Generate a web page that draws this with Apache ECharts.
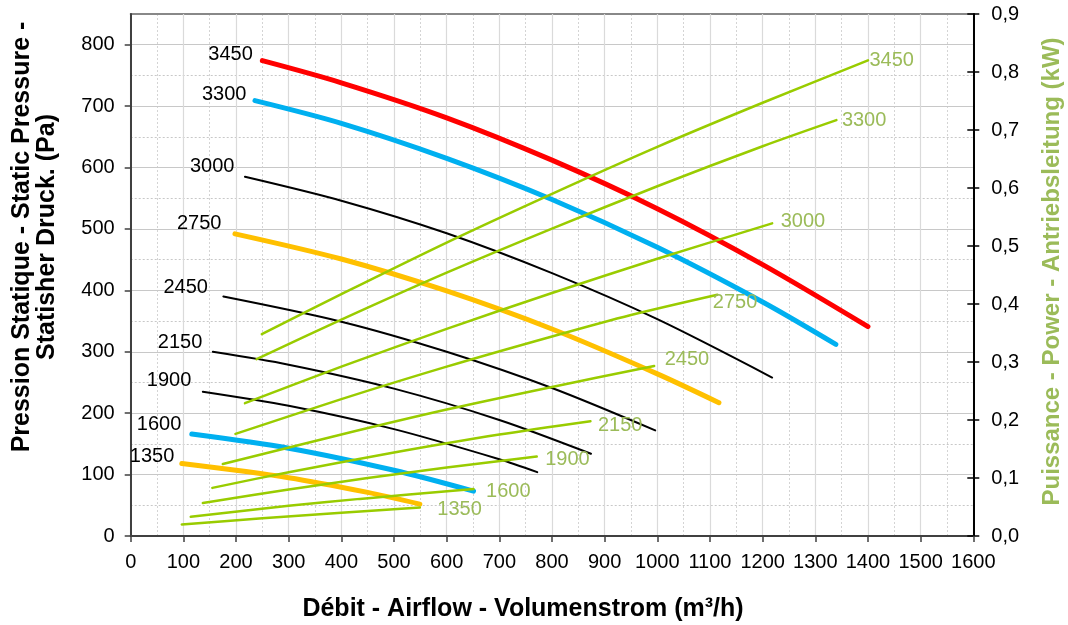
<!DOCTYPE html>
<html>
<head>
<meta charset="utf-8">
<script src="https://cdn.jsdelivr.net/npm/echarts@6/dist/echarts.min.js"></script>
<style>
html,body{margin:0;padding:0;background:#fff;}
#chart{width:1068px;height:625px;}
</style>
</head>
<body>
<div id="chart"></div>
<script>
// ---- Tick labels ----
const xTicks = [0,100,200,300,400,500,600,700,800,900,1000,1100,1200,1300,1400,1500,1600];
const yLeftTicks = [0,100,200,300,400,500,600,700,800];
const yRightTicks = [0,0.1,0.2,0.3,0.4,0.5,0.6,0.7,0.8,0.9];

// ---- Fan speeds (curve names) ----
const speeds = ['3450','3300','3000','2750','2450','2150','1900','1600','1350'];

// ---- Static pressure curves [airflow m3/h, Pa] ----
const pressure3450 = [[250,774],[400,738],[600,681],[800,612],[1000,533],[1200,442],[1400,341]];
const pressure3300 = [[236,709],[400,672],[600,615],[800,548],[1000,470],[1200,381],[1339,312]];
const pressure3000 = [[217,585],[400,546],[600,493],[800,428],[1000,353],[1218,258]];
const pressure2750 = [[198,492],[400,451],[600,399],[800,337],[1000,264],[1117,217]];
const pressure2450 = [[176,390],[400,349],[600,300],[800,241],[996,172]];
const pressure2150 = [[156,300],[300,279],[500,240],[700,189],[874,134]];
const pressure1900 = [[137,235],[300,212],[500,174],[700,125],[772,104]];
const pressure1600 = [[116,166],[300,143],[500,107],[651,73]];
const pressure1350 = [[97,118],[300,95],[450,71],[549,52]];

// ---- Power curves [airflow m3/h, kW] ----
const power3450 = [[249,0.348],[400,0.417],[600,0.506],[800,0.590],[1000,0.671],[1200,0.747],[1400,0.820]];
const power3300 = [[239,0.305],[400,0.373],[600,0.454],[800,0.530],[1000,0.603],[1200,0.672],[1340,0.717]];
const power3000 = [[217,0.229],[400,0.292],[600,0.357],[800,0.419],[1000,0.478],[1218,0.539]];
const power2750 = [[199,0.176],[400,0.236],[600,0.292],[800,0.344],[950,0.381],[1114,0.416]];
const power2450 = [[175,0.124],[400,0.175],[600,0.218],[800,0.257],[994,0.293]];
const power2150 = [[155,0.083],[300,0.110],[500,0.144],[700,0.175],[873,0.198]];
const power1900 = [[137,0.057],[300,0.080],[450,0.100],[600,0.118],[771,0.137]];
const power1600 = [[114,0.033],[300,0.052],[435,0.064],[651,0.081]];
const power1350 = [[97,0.020],[250,0.0305],[400,0.040],[549,0.049]];

const FONT = '"Liberation Sans", Arial, sans-serif';
const RED = '#FF0000', BLUE = '#00B0F0', ORANGE = '#FFC000', BLACK = '#000000', GREEN = '#99CC00', GREEN_TXT = '#9BBB59';

const pressureSets = [
  {name: speeds[0], data: pressure3450, color: RED,    width: 5, off: [-9, -6]},
  {name: speeds[1], data: pressure3300, color: BLUE,   width: 5, off: [-8, -6]},
  {name: speeds[2], data: pressure3000, color: BLACK,  width: 2, off: [-10, -10]},
  {name: speeds[3], data: pressure2750, color: ORANGE, width: 5, off: [-13, -10]},
  {name: speeds[4], data: pressure2450, color: BLACK,  width: 2, off: [-15, -9]},
  {name: speeds[5], data: pressure2150, color: BLACK,  width: 2, off: [-10, -9]},
  {name: speeds[6], data: pressure1900, color: BLACK,  width: 2, off: [-11, -11]},
  {name: speeds[7], data: pressure1600, color: BLUE,   width: 5, off: [-10, -10]},
  {name: speeds[8], data: pressure1350, color: ORANGE, width: 5, off: [-7, -7]}
];
const powerSets = [
  {name: speeds[0], data: power3450, off: [1, 0]},
  {name: speeds[1], data: power3300, off: [5, 0]},
  {name: speeds[2], data: power3000, off: [8, -2]},
  {name: speeds[3], data: power2750, off: [-5, 8]},
  {name: speeds[4], data: power2450, off: [10, -7]},
  {name: speeds[5], data: power2150, off: [7, 4]},
  {name: speeds[6], data: power1900, off: [8, 3]},
  {name: speeds[7], data: power1600, off: [12, 2]},
  {name: speeds[8], data: power1350, off: [17, 2]}
];

const series = [];
pressureSets.forEach(s => {
  series.push({
    type: 'line', name: 'P' + s.name, xAxisIndex: 0, yAxisIndex: 0,
    smooth: 0.3, symbol: 'circle', symbolSize: 1, showSymbol: true,
    lineStyle: {color: s.color, width: s.width, cap: 'round'},
    itemStyle: {color: s.color},
    silent: true, emphasis: {disabled: true}, z: 3,
    data: s.data.map((p, i) => i === 0 ? {
      value: p,
      label: {show: true, position: 'left', distance: 0, offset: s.off, formatter: s.name,
              color: '#000', fontSize: 20, fontFamily: FONT}
    } : p)
  });
});
powerSets.forEach(s => {
  series.push({
    type: 'line', name: 'W' + s.name, xAxisIndex: 0, yAxisIndex: 1,
    smooth: 0.3, symbol: 'circle', symbolSize: 1, showSymbol: true,
    lineStyle: {color: GREEN, width: 2.5, cap: 'round'},
    itemStyle: {color: GREEN},
    silent: true, emphasis: {disabled: true}, z: 4,
    data: s.data.map((p, i) => i === s.data.length - 1 ? {
      value: p,
      label: {show: true, position: 'right', distance: 0, offset: s.off, formatter: s.name,
              color: GREEN_TXT, fontSize: 20, fontFamily: FONT}
    } : p)
  });
});

const chart = echarts.init(document.getElementById('chart'), null, {renderer: 'canvas'});
chart.setOption({
  animation: false,
  backgroundColor: '#ffffff',
  textStyle: {fontFamily: FONT},
  grid: {left: 130.7, right: 94.7, top: 14, bottom: 89, containLabel: false, outerBoundsMode: 'none'},
  xAxis: [
    {
      type: 'value', position: 'bottom', min: 0, max: 1600, interval: 100, z: 2,
      axisLine: {show: true, onZero: false, lineStyle: {color: '#404040', width: 2}},
      axisTick: {show: true, length: 6, lineStyle: {color: '#404040', width: 1.5}},
      axisLabel: {show: true, fontSize: 20, color: '#000', margin: 16, fontFamily: FONT,
                  customValues: xTicks, formatter: v => String(v)},
      splitLine: {show: true, lineStyle: {color: '#dadada', width: 1.2}}
    },
    {
      type: 'value', position: 'top', min: 0, max: 1600, interval: 50, z: 1,
      axisLine: {show: true, onZero: false, lineStyle: {color: '#888888', width: 2}},
      axisTick: {show: false}, axisLabel: {show: false},
      splitLine: {show: true, lineStyle: {color: '#d4d4d4', width: 1, type: [2, 2]}}
    }
  ],
  yAxis: [
    {
      type: 'value', position: 'left', min: 0, max: 850, interval: 100, z: 2,
      axisLine: {show: true, onZero: false, lineStyle: {color: '#404040', width: 2}},
      axisTick: {show: true, length: 6, customValues: yLeftTicks, lineStyle: {color: '#404040', width: 1.5}},
      axisLabel: {show: true, fontSize: 20, color: '#000', margin: 16, fontFamily: FONT,
                  customValues: yLeftTicks, formatter: v => String(v)},
      splitLine: {show: true, lineStyle: {color: '#c8c8c8', width: 1.2}}
    },
    {
      type: 'value', position: 'right', min: 0, max: 0.9, interval: 0.1, z: 2,
      axisLine: {show: true, onZero: false, lineStyle: {color: '#000', width: 2}},
      axisTick: {show: true, length: 6, customValues: yRightTicks, lineStyle: {color: '#000', width: 1.5}},
      axisLabel: {show: true, fontSize: 20, color: '#000', margin: 18, fontFamily: FONT,
                  customValues: yRightTicks, formatter: v => v.toFixed(1).replace('.', ',')},
      splitLine: {show: false}
    },
    {
      type: 'value', position: 'right', min: 0, max: 0.9, interval: 0.1, z: 2,
      axisLine: {show: false, onZero: false},
      axisTick: {show: true, inside: true, length: 6, lineStyle: {color: '#000', width: 1.5}},
      axisLabel: {show: false}, splitLine: {show: false}
    },
    {
      type: 'value', position: 'left', min: 0, max: 850, interval: 50, z: 1,
      axisLine: {show: false, onZero: false}, axisTick: {show: false}, axisLabel: {show: false},
      splitLine: {show: true, lineStyle: {color: '#c8c8c8', width: 1, type: [2, 2]}}
    }
  ],
  graphic: [
    {
      type: 'text', x: 523, y: 609, silent: true,
      style: {text: 'Débit - Airflow - Volumenstrom (m³/h)', align: 'center', verticalAlign: 'middle',
              font: 'bold 25px ' + FONT, fill: '#000'}
    },
    {
      type: 'text', x: 35, y: 237, rotation: Math.PI / 2, silent: true,
      style: {text: 'Pression Statique - Static Pressure -\nStatisher Druck. (Pa)', align: 'center',
              verticalAlign: 'middle', font: 'bold 25px ' + FONT, lineHeight: 25, fill: '#000'}
    },
    {
      type: 'text', x: 1052, y: 271.5, rotation: Math.PI / 2, silent: true,
      style: {text: 'Puissance - Power - Antriebsleitung (kW)', align: 'center', verticalAlign: 'middle',
              font: 'bold 24px ' + FONT, fill: GREEN_TXT}
    }
  ],
  series: series
});
</script>
</body>
</html>
